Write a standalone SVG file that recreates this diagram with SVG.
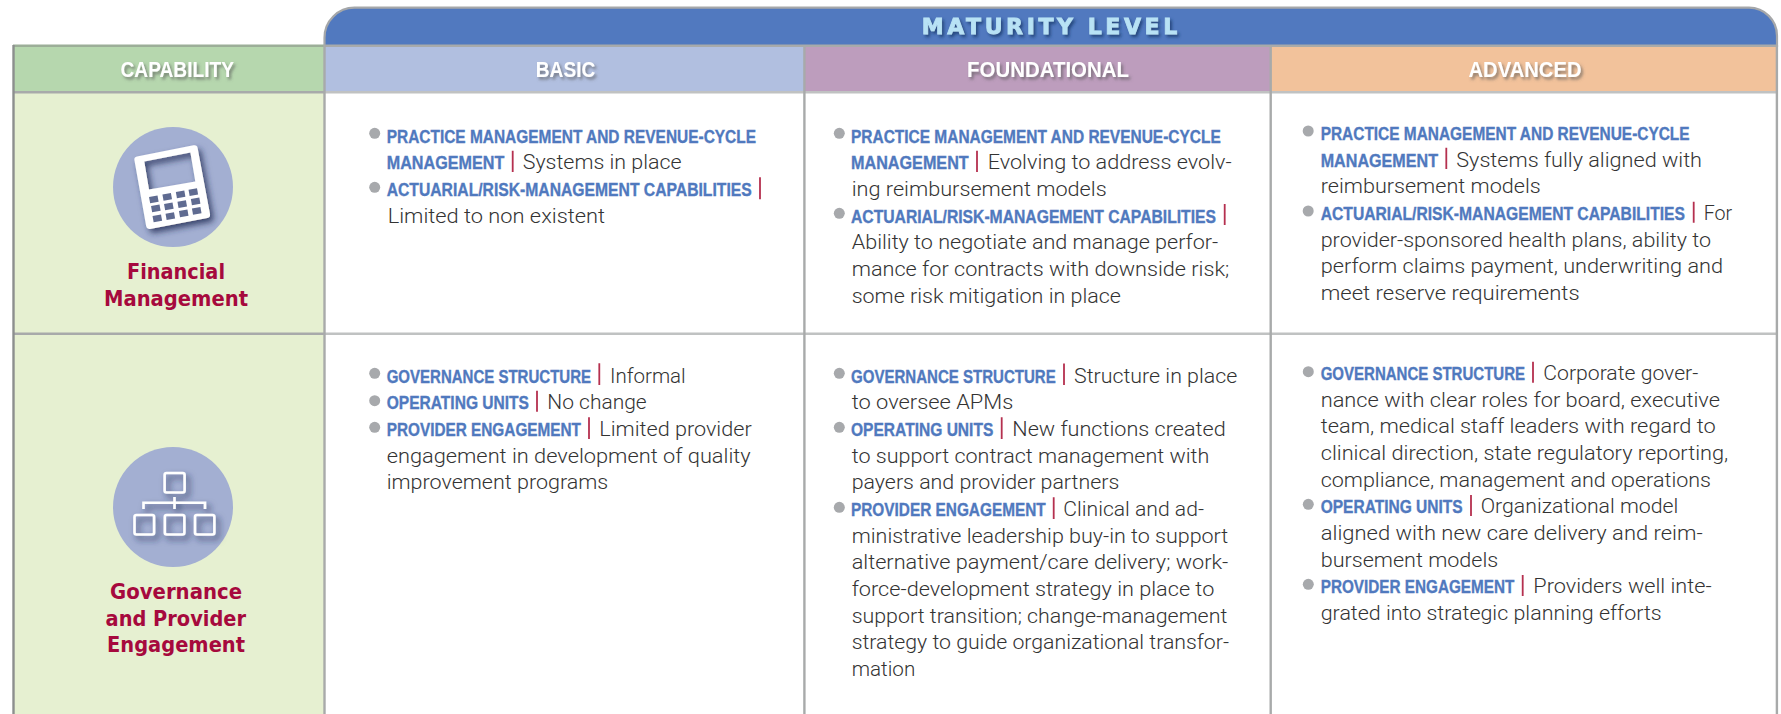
<svg xmlns="http://www.w3.org/2000/svg" width="1781" height="714" viewBox="0 0 1781 714">
<style>
text{font-family:"Liberation Sans",Arial,sans-serif}
.h{font-size:22px;font-weight:700;fill:#fff;filter:url(#ts)}
.k{font-size:18.500px;font-weight:700;fill:#5079be;stroke:#5079be;stroke-width:.35px;font-family:"Liberation Sans Narrow","Liberation Sans",sans-serif}
.t{font-size:20px;font-weight:300;fill:#333;font-family:Roboto,"Liberation Sans",sans-serif}
.c{font-size:20.500px;font-weight:700;fill:#a6093d;font-family:"DejaVu Sans",sans-serif}
.d{fill:#a7a9ac}
.r{stroke:#b5304f;stroke-width:1.8;fill:none}
.g{stroke:#a8aaaa;stroke-width:2.4;fill:none}
.l{stroke:#c0c2c2;stroke-width:2.4;fill:none}
.key{fill:#5f6b91}
.ib{fill:none;stroke:#fff;stroke-width:2.600}
</style>
<defs>
<filter id="ts" x="-10%" y="-40%" width="125%" height="200%"><feDropShadow dx="2" dy="2.5" stdDeviation="1.800" flood-color="#555" flood-opacity=".65"/></filter>
<filter id="ts2" x="-10%" y="-40%" width="125%" height="200%"><feDropShadow dx="2" dy="2.5" stdDeviation="1.800" flood-color="#1d3a6e" flood-opacity=".8"/></filter>
<filter id="is" x="-30%" y="-30%" width="170%" height="170%"><feDropShadow dx="3.500" dy="4" stdDeviation="3" flood-color="#232c52" flood-opacity=".8"/></filter>
</defs>
<rect width="1781" height="714" fill="#fff"/>

<g id="bands">
<path d="M324.500 46V37.700A30 30 0 0 1 354.500 7.700H1749A28 28 0 0 1 1777 35.700V46Z" fill="#5179bf" stroke="#a5a7a9" stroke-width="2.200"/>
<rect x="14" y="46" width="310" height="46" fill="#b6d7ae"/>
<rect x="324" y="46" width="480" height="46" fill="#b1bfe0"/>
<rect x="804" y="46" width="467" height="46" fill="#bd9dbd"/>
<rect x="1271" y="46" width="506" height="46" fill="#f2c29b"/>
<rect x="14" y="92" width="310" height="622" fill="#e6f0d1"/>
</g>

<g id="grid">
<path class="g" d="M13 45.700H324" style="stroke:#9cae98"/>
<path class="g" d="M324 45.700H1778"/>
<path class="g" d="M13 92.200H324"/>
<path class="l" d="M324 92.200H1778"/>
<path class="g" d="M13 333.800H324"/>
<path class="l" d="M324 333.800H1778"/>
<path class="g" d="M13.500 45V714" style="stroke:#8c8f8e"/>
<path class="g" d="M324.500 45V714"/>
<path class="g" d="M804.400 45V714"/>
<path class="g" d="M1270.700 45V714"/>
<path class="g" d="M1776.900 45V714"/>
</g>

<g id="header">
<text x="921.700" y="34" textLength="255.500" lengthAdjust="spacing" style="font-family:'DejaVu Sans',sans-serif;font-size:22px;font-weight:700;fill:#b8e2f5;stroke:#b8e2f5;stroke-width:.8px;filter:url(#ts2)">MATURITY LEVEL</text>
<text class="h" x="120.500" y="77" textLength="113.500" lengthAdjust="spacingAndGlyphs">CAPABILITY</text>
<text class="h" x="535.800" y="77" textLength="59.500" lengthAdjust="spacingAndGlyphs">BASIC</text>
<text class="h" x="967" y="77" textLength="162" lengthAdjust="spacingAndGlyphs">FOUNDATIONAL</text>
<text class="h" x="1468.500" y="77" textLength="113" lengthAdjust="spacingAndGlyphs">ADVANCED</text>
</g>

<g id="financial-management">
<circle cx="173" cy="187" r="60" fill="#a3afd2"/>
<g filter="url(#is)">
<path fill-rule="evenodd" fill="#fff" d="M137 156.500L193.500 145.300Q197 144.700 197.600 148L210 214Q210.600 217.300 207.300 218L150 229Q146.800 229.600 146.200 226.300L134.400 160Q133.900 157 137 156.500ZM144.300 161.500L149 189.500L195.300 181.500L190.400 152.500Z"/>
</g>
<g class="key">
<rect x="149.500" y="196.300" width="8.600" height="6.300" transform="rotate(-10 153.800 199.300)"/>
<rect x="162.900" y="193.700" width="8.600" height="6.300" transform="rotate(-10 167.200 196.700)"/>
<rect x="176.300" y="191.300" width="8.600" height="6.300" transform="rotate(-10 180.600 194.300)"/>
<rect x="189" y="189" width="8.600" height="6.300" transform="rotate(-10 193.300 192)"/>
<rect x="151.500" y="205.300" width="8.600" height="6.300" transform="rotate(-10 155.800 208.300)"/>
<rect x="164.500" y="203.300" width="8.600" height="6.300" transform="rotate(-10 168.800 206.300)"/>
<rect x="177.900" y="201" width="8.600" height="6.300" transform="rotate(-10 182.200 204)"/>
<rect x="191.300" y="198.300" width="8.600" height="6.300" transform="rotate(-10 195.600 201.300)"/>
<rect x="153" y="215.300" width="8.600" height="6.300" transform="rotate(-10 157.300 218.300)"/>
<rect x="166" y="213" width="8.600" height="6.300" transform="rotate(-10 170.300 216)"/>
<rect x="179.400" y="210.300" width="8.600" height="6.300" transform="rotate(-10 183.700 213.300)"/>
<rect x="192.400" y="207.700" width="8.600" height="6.300" transform="rotate(-10 196.700 210.700)"/>
</g>
<text class="c" x="127" y="279.300" textLength="98" lengthAdjust="spacingAndGlyphs">Financial</text>
<text class="c" x="104" y="306" textLength="144" lengthAdjust="spacingAndGlyphs">Management</text>
</g>

<g id="governance-provider-engagement">
<circle cx="173" cy="507" r="60" fill="#a3afd2"/>
<g class="ib" filter="url(#is)">
<rect x="164.600" y="473" width="20" height="19.500" rx="2"/>
<rect x="134.500" y="515" width="19.600" height="19.500" rx="2"/>
<rect x="164.800" y="515" width="19.600" height="19.500" rx="2"/>
<rect x="195" y="515" width="19.400" height="19.500" rx="2"/>
<path d="M174.500 497V509M143.500 509V502.700H205V509"/>
</g>
<text class="c" x="110" y="599" textLength="132" lengthAdjust="spacingAndGlyphs">Governance</text>
<text class="c" x="105.600" y="626" textLength="140.400" lengthAdjust="spacingAndGlyphs">and Provider</text>
<text class="c" x="107" y="652.300" textLength="138" lengthAdjust="spacingAndGlyphs">Engagement</text>
</g>

<g id="basic-financial">
<circle class="d" cx="374.700" cy="133.300" r="5.500"/>
<circle class="d" cx="374.700" cy="187.300" r="5.500"/>
<path class="r" d="M512.700 150.700V172M760 177.300V199.300"/>
<text class="k" x="386.700" y="142.700" textLength="369.300" lengthAdjust="spacingAndGlyphs">PRACTICE MANAGEMENT AND REVENUE-CYCLE</text>
<text class="k" x="386.700" y="169.300" textLength="117.600" lengthAdjust="spacingAndGlyphs">MANAGEMENT</text>
<text class="t" x="522.700" y="169.300" textLength="159" lengthAdjust="spacingAndGlyphs">Systems in place</text>
<text class="k" x="386.700" y="196" textLength="365" lengthAdjust="spacingAndGlyphs">ACTUARIAL/RISK-MANAGEMENT CAPABILITIES</text>
<text class="t" x="387.700" y="222.700" textLength="217.300" lengthAdjust="spacingAndGlyphs">Limited to non existent</text>
</g>

<g id="foundational-financial">
<circle class="d" cx="839.300" cy="133.300" r="5.500"/>
<circle class="d" cx="839.300" cy="213.300" r="5.500"/>
<path class="r" d="M977 150.700V172M1224.700 204V225"/>
<text class="k" x="851" y="142.700" textLength="369.700" lengthAdjust="spacingAndGlyphs">PRACTICE MANAGEMENT AND REVENUE-CYCLE</text>
<text class="k" x="851" y="169.300" textLength="117.700" lengthAdjust="spacingAndGlyphs">MANAGEMENT</text>
<text class="t" x="987.700" y="169.300" textLength="244" lengthAdjust="spacingAndGlyphs">Evolving to address evolv-</text>
<text class="t" x="851.700" y="196" textLength="255" lengthAdjust="spacingAndGlyphs">ing reimbursement models</text>
<text class="k" x="851" y="222.700" textLength="365" lengthAdjust="spacingAndGlyphs">ACTUARIAL/RISK-MANAGEMENT CAPABILITIES</text>
<text class="t" x="851.700" y="249.300" textLength="366.600" lengthAdjust="spacingAndGlyphs">Ability to negotiate and manage perfor-</text>
<text class="t" x="851.700" y="276" textLength="377.600" lengthAdjust="spacingAndGlyphs">mance for contracts with downside risk;</text>
<text class="t" x="851.700" y="302.700" textLength="269.300" lengthAdjust="spacingAndGlyphs">some risk mitigation in place</text>
</g>

<g id="advanced-financial">
<circle class="d" cx="1308.200" cy="131" r="5.500"/>
<circle class="d" cx="1308.200" cy="211" r="5.500"/>
<path class="r" d="M1446.300 147.700V169M1693.700 201.700V222.700"/>
<text class="k" x="1320.700" y="140" textLength="368.900" lengthAdjust="spacingAndGlyphs">PRACTICE MANAGEMENT AND REVENUE-CYCLE</text>
<text class="k" x="1320.700" y="166.700" textLength="117.300" lengthAdjust="spacingAndGlyphs">MANAGEMENT</text>
<text class="t" x="1456.300" y="166.700" textLength="245.700" lengthAdjust="spacingAndGlyphs">Systems fully aligned with</text>
<text class="t" x="1320.700" y="193.300" textLength="220" lengthAdjust="spacingAndGlyphs">reimbursement models</text>
<text class="k" x="1320.700" y="220" textLength="364.300" lengthAdjust="spacingAndGlyphs">ACTUARIAL/RISK-MANAGEMENT CAPABILITIES</text>
<text class="t" x="1703.700" y="220" textLength="28.500" lengthAdjust="spacingAndGlyphs">For</text>
<text class="t" x="1320.700" y="246.700" textLength="390.300" lengthAdjust="spacingAndGlyphs">provider-sponsored health plans, ability to</text>
<text class="t" x="1320.700" y="273.300" textLength="402.300" lengthAdjust="spacingAndGlyphs">perform claims payment, underwriting and</text>
<text class="t" x="1320.700" y="300" textLength="258.900" lengthAdjust="spacingAndGlyphs">meet reserve requirements</text>
</g>

<g id="basic-governance">
<circle class="d" cx="374.700" cy="373.300" r="5.500"/>
<circle class="d" cx="374.700" cy="400.700" r="5.500"/>
<circle class="d" cx="374.700" cy="427.300" r="5.500"/>
<path class="r" d="M599.300 363.300V385M537 390.700V411.700M589 417.300V439"/>
<text class="k" x="386.700" y="382.700" textLength="204.300" lengthAdjust="spacingAndGlyphs">GOVERNANCE STRUCTURE</text>
<text class="t" x="610" y="382.700" textLength="75.700" lengthAdjust="spacingAndGlyphs">Informal</text>
<text class="k" x="386.700" y="409.300" textLength="142.300" lengthAdjust="spacingAndGlyphs">OPERATING UNITS</text>
<text class="t" x="547.300" y="409.300" textLength="99.400" lengthAdjust="spacingAndGlyphs">No change</text>
<text class="k" x="386.700" y="436" textLength="194.300" lengthAdjust="spacingAndGlyphs">PROVIDER ENGAGEMENT</text>
<text class="t" x="599.300" y="436" textLength="152.400" lengthAdjust="spacingAndGlyphs">Limited provider</text>
<text class="t" x="386.700" y="462.700" textLength="364" lengthAdjust="spacingAndGlyphs">engagement in development of quality</text>
<text class="t" x="386.700" y="489.300" textLength="221.600" lengthAdjust="spacingAndGlyphs">improvement programs</text>
</g>

<g id="foundational-governance">
<circle class="d" cx="839.300" cy="373.300" r="5.500"/>
<circle class="d" cx="839.300" cy="427.300" r="5.500"/>
<circle class="d" cx="839.300" cy="507.300" r="5.500"/>
<path class="r" d="M1064 363.500V385M1001.700 417.300V439M1053.700 497.300V519"/>
<text class="k" x="851" y="382.700" textLength="204.700" lengthAdjust="spacingAndGlyphs">GOVERNANCE STRUCTURE</text>
<text class="t" x="1074" y="382.700" textLength="163.300" lengthAdjust="spacingAndGlyphs">Structure in place</text>
<text class="t" x="851.700" y="409.300" textLength="161.600" lengthAdjust="spacingAndGlyphs">to oversee APMs</text>
<text class="k" x="851" y="436" textLength="142.300" lengthAdjust="spacingAndGlyphs">OPERATING UNITS</text>
<text class="t" x="1012.300" y="436" textLength="213.400" lengthAdjust="spacingAndGlyphs">New functions created</text>
<text class="t" x="851.700" y="462.700" textLength="357.600" lengthAdjust="spacingAndGlyphs">to support contract management with</text>
<text class="t" x="851.700" y="489.300" textLength="267.600" lengthAdjust="spacingAndGlyphs">payers and provider partners</text>
<text class="k" x="851" y="516" textLength="194.700" lengthAdjust="spacingAndGlyphs">PROVIDER ENGAGEMENT</text>
<text class="t" x="1063.300" y="516" textLength="140.700" lengthAdjust="spacingAndGlyphs">Clinical and ad-</text>
<text class="t" x="851.700" y="542.700" textLength="376.600" lengthAdjust="spacingAndGlyphs">ministrative leadership buy-in to support</text>
<text class="t" x="851.700" y="569.300" textLength="376.600" lengthAdjust="spacingAndGlyphs">alternative payment/care delivery; work-</text>
<text class="t" x="851.700" y="596" textLength="362.600" lengthAdjust="spacingAndGlyphs">force-development strategy in place to</text>
<text class="t" x="851.700" y="622.700" textLength="375.600" lengthAdjust="spacingAndGlyphs">support transition; change-management</text>
<text class="t" x="851.700" y="649.300" textLength="377.300" lengthAdjust="spacingAndGlyphs">strategy to guide organizational transfor-</text>
<text class="t" x="851.700" y="676" textLength="63.600" lengthAdjust="spacingAndGlyphs">mation</text>
</g>

<g id="advanced-governance">
<circle class="d" cx="1308.300" cy="371.700" r="5.500"/>
<circle class="d" cx="1308.300" cy="504.300" r="5.500"/>
<circle class="d" cx="1308.300" cy="584.300" r="5.500"/>
<path class="r" d="M1533 361.700V382.700M1471 495V516M1522.700 575V596"/>
<text class="k" x="1320.700" y="380" textLength="204.300" lengthAdjust="spacingAndGlyphs">GOVERNANCE STRUCTURE</text>
<text class="t" x="1543.300" y="380" textLength="155" lengthAdjust="spacingAndGlyphs">Corporate gover-</text>
<text class="t" x="1320.700" y="406.700" textLength="399.300" lengthAdjust="spacingAndGlyphs">nance with clear roles for board, executive</text>
<text class="t" x="1320.700" y="433.300" textLength="395" lengthAdjust="spacingAndGlyphs">team, medical staff leaders with regard to</text>
<text class="t" x="1320.700" y="460" textLength="407.600" lengthAdjust="spacingAndGlyphs">clinical direction, state regulatory reporting,</text>
<text class="t" x="1320.700" y="486.700" textLength="390.300" lengthAdjust="spacingAndGlyphs">compliance, management and operations</text>
<text class="k" x="1320.700" y="513.300" textLength="142" lengthAdjust="spacingAndGlyphs">OPERATING UNITS</text>
<text class="t" x="1480.700" y="513.300" textLength="197.600" lengthAdjust="spacingAndGlyphs">Organizational model</text>
<text class="t" x="1320.700" y="540" textLength="382" lengthAdjust="spacingAndGlyphs">aligned with new care delivery and reim-</text>
<text class="t" x="1320.700" y="566.700" textLength="177.600" lengthAdjust="spacingAndGlyphs">bursement models</text>
<text class="k" x="1320.700" y="593.300" textLength="193.600" lengthAdjust="spacingAndGlyphs">PROVIDER ENGAGEMENT</text>
<text class="t" x="1533.300" y="593.300" textLength="178.400" lengthAdjust="spacingAndGlyphs">Providers well inte-</text>
<text class="t" x="1320.700" y="620" textLength="341" lengthAdjust="spacingAndGlyphs">grated into strategic planning efforts</text>
</g>
</svg>
